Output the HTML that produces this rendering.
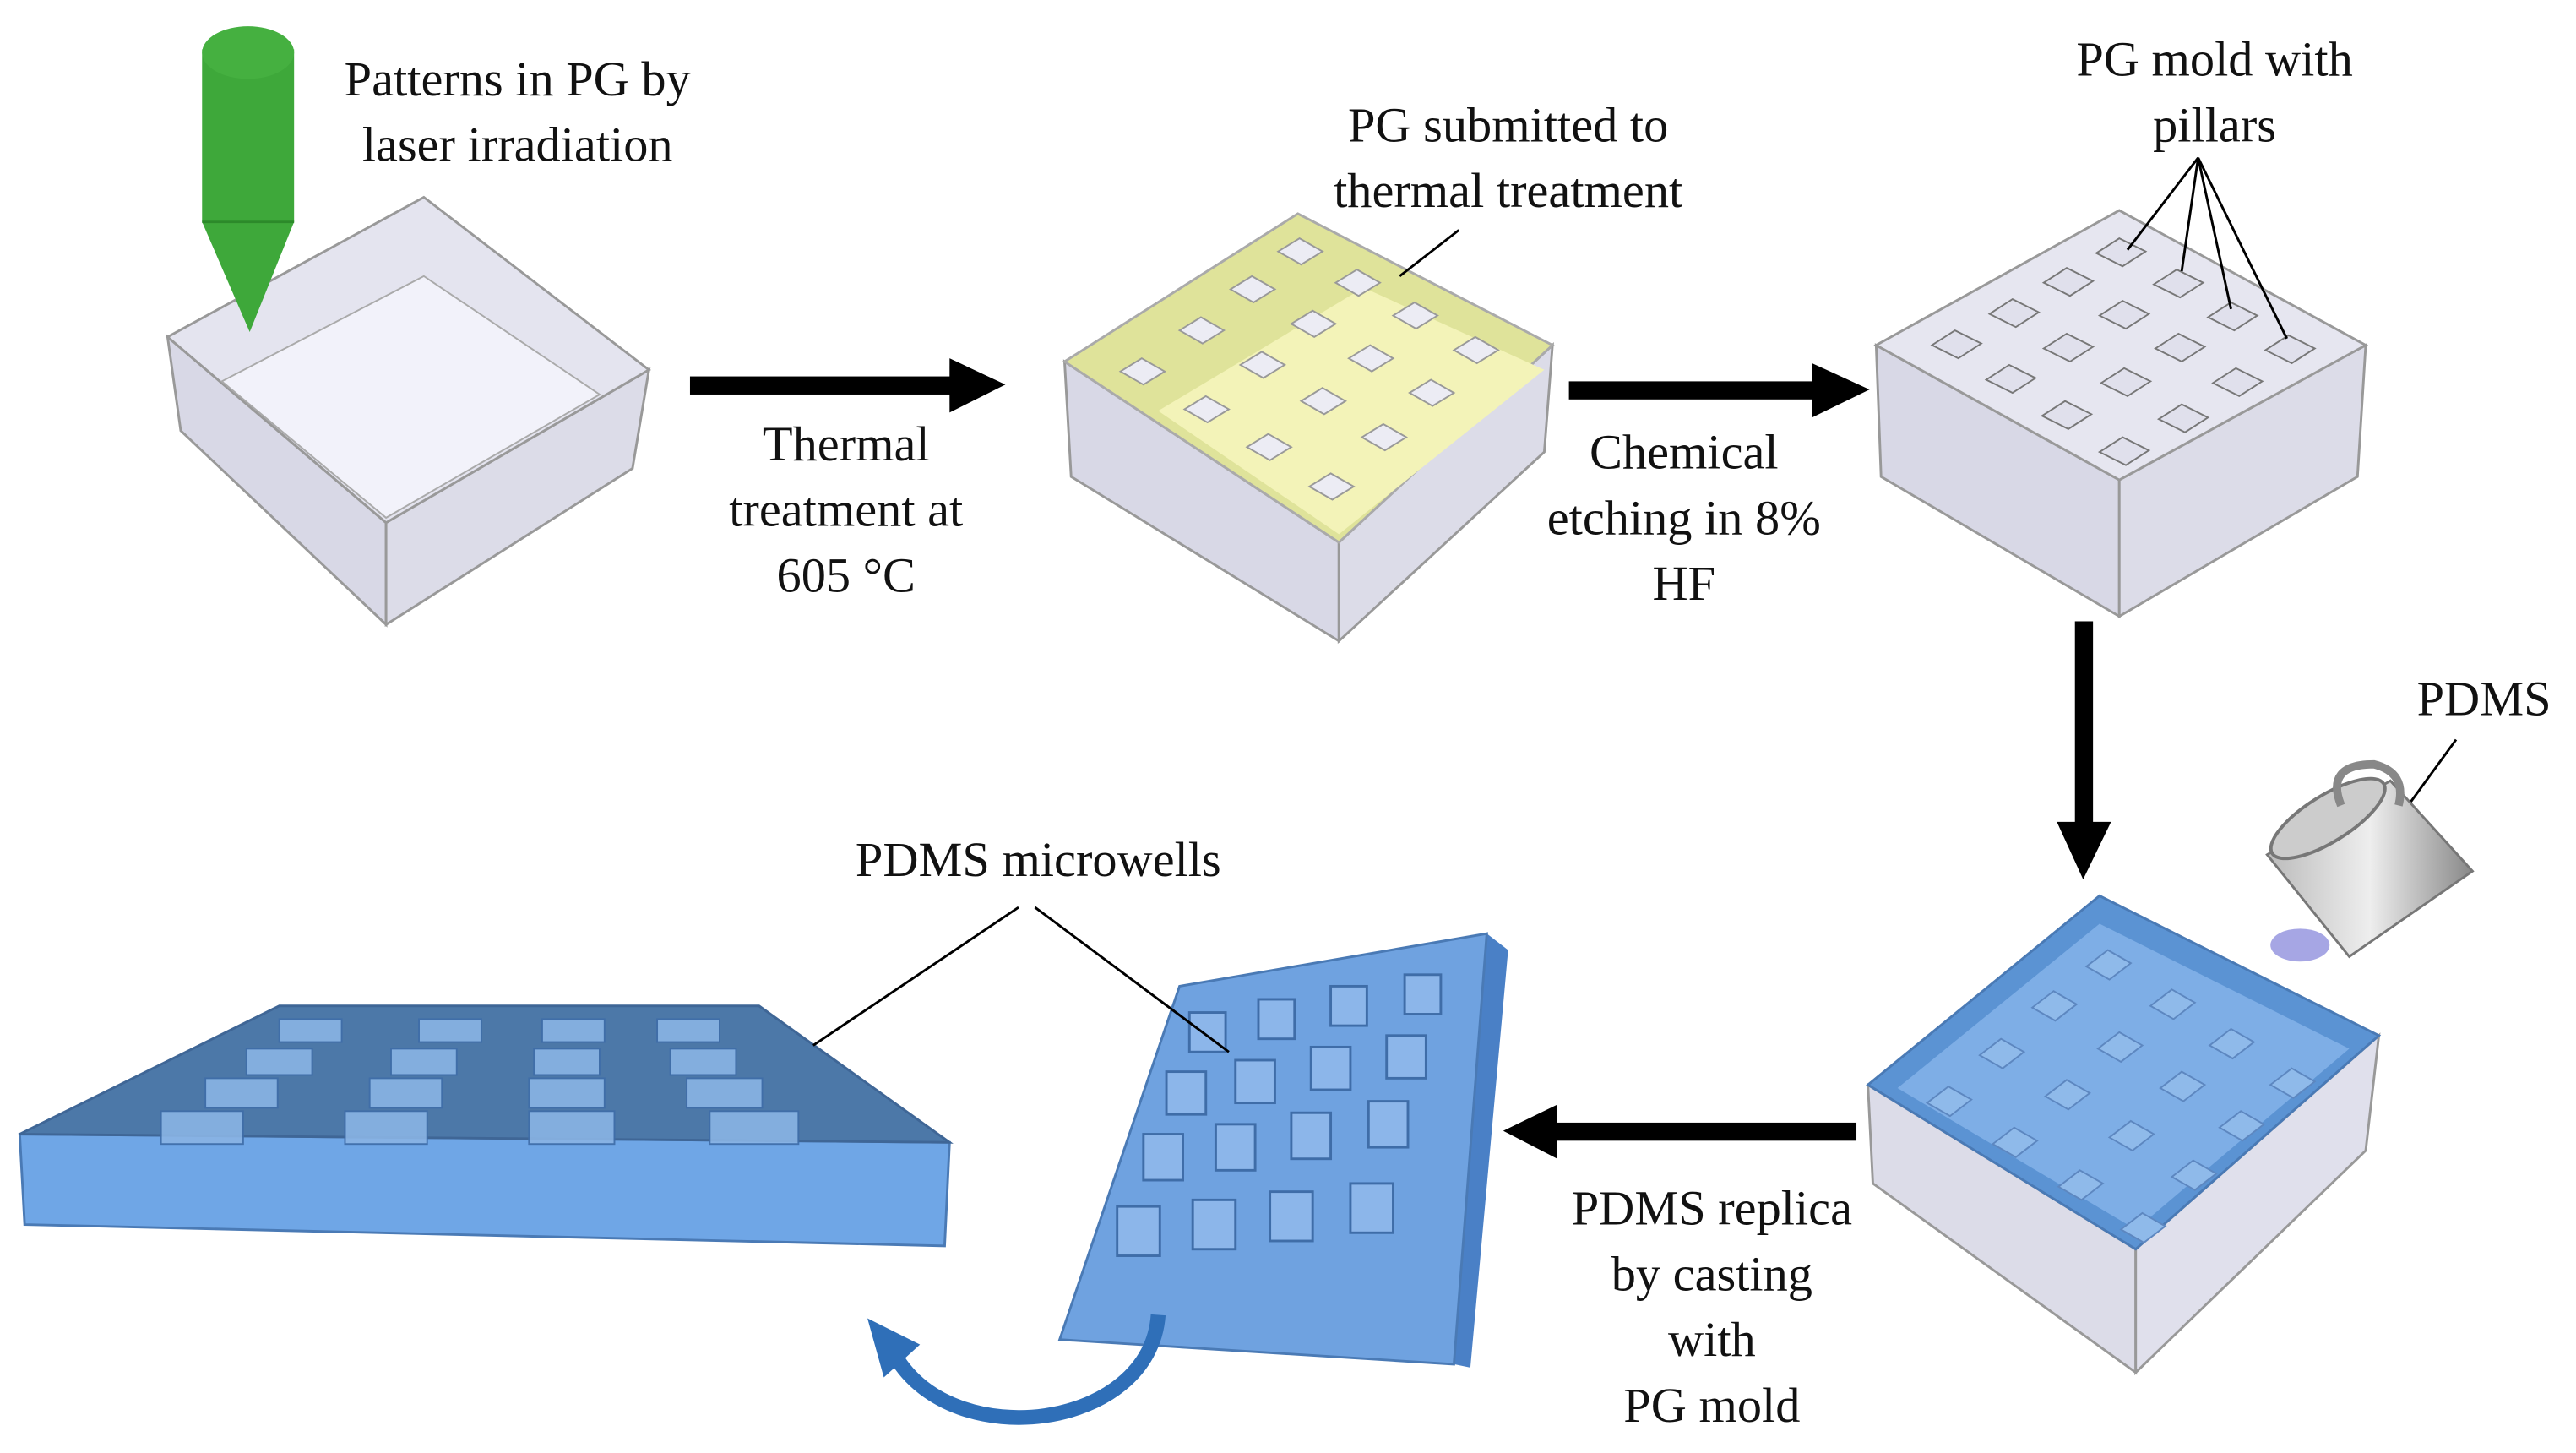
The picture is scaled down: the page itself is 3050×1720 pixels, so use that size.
<!DOCTYPE html>
<html><head><meta charset="utf-8"><style>
html,body{margin:0;padding:0;background:#fff;}
svg{display:block;}
text{font-family:"Liberation Serif",serif;font-size:30px;fill:#111;text-anchor:middle;}
</style></head><body>
<svg width="3050" height="1720" viewBox="0 0 1568 884" preserveAspectRatio="none" xmlns="http://www.w3.org/2000/svg">
<defs>
<pattern id="sq" width="1" height="1"></pattern>
<linearGradient id="cup" x1="0" y1="0" x2="1" y2="0"><stop offset="0" stop-color="#bbb"/><stop offset="0.5" stop-color="#eee"/><stop offset="1" stop-color="#888"/></linearGradient>
</defs>
<!-- Box 1 -->
<polygon points="102,205 235,318 235,380 110,262" fill="#d8d8e6" stroke="#999" stroke-width="1.5"/>
<polygon points="235,318 395,225 385,285 235,380" fill="#dcdce8" stroke="#999" stroke-width="1.5"/>
<polygon points="258,120 395,225 235,318 102,205" fill="#e4e4ef" stroke="#999" stroke-width="1.5"/>
<polygon points="258,168 365,240 235,315 135,232" fill="#f2f2fa" stroke="#aaa" stroke-width="1"/>
<!-- laser -->
<rect x="123" y="30" width="56" height="105" fill="#3ea83a"/>
<ellipse cx="151" cy="32" rx="28" ry="16" fill="#45b040"/>
<polygon points="123,135 179,135 152,202" fill="#3ea83a"/>
<line x1="123" y1="135" x2="179" y2="135" stroke="#2c8a2a" stroke-width="1.5"/>
<text x="315" y="58">Patterns in PG by</text>
<text x="315" y="98">laser irradiation</text>
<!-- arrow 1 -->
<rect x="420" y="229" width="162" height="11" fill="#000"/>
<polygon points="578,218 612,234 578,251" fill="#000"/>
<text x="515" y="280">Thermal</text>
<text x="515" y="320">treatment at</text>
<text x="515" y="360">605 °C</text>
<!-- Box 2 -->
<polygon points="648,220 815,330 815,390 652,290" fill="#d8d8e6" stroke="#999" stroke-width="1.5"/>
<polygon points="815,330 945,210 940,275 815,390" fill="#dcdce8" stroke="#999" stroke-width="1.5"/>
<polygon points="790,130 945,210 815,330 648,220" fill="#dfe39a" stroke="#aaa" stroke-width="1.5"/>
<polygon points="830,175 940,225 815,325 705,250" fill="#f3f3b8"/>
<g fill="#ececf4" stroke="#999" stroke-width="1">
<polygon points="791,145 805,153 792,161 778,153"/><polygon points="826,164 840,172 827,180 813,172"/><polygon points="861,184 875,192 862,200 848,192"/><polygon points="898,205 912,213 899,221 885,213"/>
<polygon points="762,168 776,176 763,184 749,176"/><polygon points="799,189 813,197 800,205 786,197"/><polygon points="834,210 848,218 835,226 821,218"/><polygon points="871,231 885,239 872,247 858,239"/>
<polygon points="731,193 745,201 732,209 718,201"/><polygon points="768,214 782,222 769,230 755,222"/><polygon points="805,236 819,244 806,252 792,244"/><polygon points="842,258 856,266 843,274 829,266"/>
<polygon points="695,218 709,226 696,234 682,226"/><polygon points="734,241 748,249 735,257 721,249"/><polygon points="772,264 786,272 773,280 759,272"/><polygon points="810,288 824,296 811,304 797,296"/>
</g>
<text x="918" y="86">PG submitted to</text>
<text x="918" y="126">thermal treatment</text>
<line x1="888" y1="140" x2="852" y2="168" stroke="#000" stroke-width="1.5"/>
<!-- arrow 2 -->
<rect x="955" y="232" width="150" height="11" fill="#000"/>
<polygon points="1103,221 1138,237 1103,254" fill="#000"/>
<text x="1025" y="285">Chemical</text>
<text x="1025" y="325">etching in 8%</text>
<text x="1025" y="365">HF</text>
<!-- Box 3 -->
<polygon points="1142,210 1290,292 1290,375 1145,290" fill="#d8d8e6" stroke="#999" stroke-width="1.5"/>
<polygon points="1290,292 1440,210 1435,290 1290,375" fill="#dcdce8" stroke="#999" stroke-width="1.5"/>
<polygon points="1290,128 1440,210 1290,292 1142,210" fill="#e6e6f0" stroke="#999" stroke-width="1.5"/>
<g fill="#e0e0ec" stroke="#777" stroke-width="1">
<polygon points="1290,145 1306,153 1292,162 1276,154"/><polygon points="1325,164 1341,172 1327,181 1311,173"/><polygon points="1358,184 1374,192 1360,201 1344,193"/><polygon points="1393,204 1409,212 1395,221 1379,213"/>
<polygon points="1258,163 1274,171 1260,180 1244,172"/><polygon points="1292,183 1308,191 1294,200 1278,192"/><polygon points="1326,203 1342,211 1328,220 1312,212"/><polygon points="1361,224 1377,232 1363,241 1347,233"/>
<polygon points="1225,182 1241,190 1227,199 1211,191"/><polygon points="1258,203 1274,211 1260,220 1244,212"/><polygon points="1293,224 1309,232 1295,241 1279,233"/><polygon points="1328,246 1344,254 1330,263 1314,255"/>
<polygon points="1190,201 1206,209 1192,218 1176,210"/><polygon points="1223,222 1239,230 1225,239 1209,231"/><polygon points="1257,244 1273,252 1259,261 1243,253"/><polygon points="1292,266 1308,274 1294,283 1278,275"/>
</g>
<text x="1348" y="46">PG mold with</text>
<text x="1348" y="86">pillars</text>
<g stroke="#000" stroke-width="1.5"><line x1="1338" y1="96" x2="1295" y2="152"/><line x1="1338" y1="96" x2="1328" y2="165"/><line x1="1338" y1="96" x2="1358" y2="188"/><line x1="1338" y1="96" x2="1392" y2="206"/></g>
<!-- down arrow -->
<rect x="1263" y="378" width="11" height="125" fill="#000"/>
<polygon points="1252,500 1285,500 1268,535" fill="#000"/>
<text x="1512" y="435">PDMS</text>
<line x1="1495" y1="450" x2="1460" y2="498" stroke="#000" stroke-width="1.5"/>
<!-- cup -->
<ellipse cx="1400" cy="575" rx="18" ry="10" fill="#8080d8" opacity="0.7"/>
<polygon points="1380,520 1455,475 1505,530 1430,582" fill="url(#cup)" stroke="#777" stroke-width="1.5"/>
<ellipse cx="1417" cy="498" rx="40" ry="14" transform="rotate(-32 1417 498)" fill="#ccc" stroke="#777" stroke-width="2"/>
<path d="M1425,490 q-10,-25 20,-25 q20,5 15,25" fill="none" stroke="#888" stroke-width="5"/>
<!-- Box 4 -->
<polygon points="1137,660 1300,760 1300,835 1140,720" fill="#dcdce8" stroke="#999" stroke-width="1.5"/>
<polygon points="1300,760 1448,630 1440,700 1300,835" fill="#e0e0ec" stroke="#999" stroke-width="1.5"/>
<polygon points="1278,545 1448,630 1300,760 1137,660" fill="#5b93d3" stroke="#4a7ab5" stroke-width="1.5"/>
<polygon points="1278,562 1430,638 1300,748 1155,662" fill="#7eaee6"/>
<g fill="#8fbaea" stroke="#5d87c0" stroke-width="1">
<polygon points="1283,578 1297,586 1284,596 1270,588"/><polygon points="1322,602 1336,610 1323,620 1309,612"/><polygon points="1358,626 1372,634 1359,644 1345,636"/><polygon points="1395,650 1409,658 1396,668 1382,660"/>
<polygon points="1250,603 1264,611 1251,621 1237,613"/><polygon points="1290,628 1304,636 1291,646 1277,638"/><polygon points="1328,652 1342,660 1329,670 1315,662"/><polygon points="1364,676 1378,684 1365,694 1351,686"/>
<polygon points="1218,632 1232,640 1219,650 1205,642"/><polygon points="1258,657 1272,665 1259,675 1245,667"/><polygon points="1297,682 1311,690 1298,700 1284,692"/><polygon points="1335,706 1349,714 1336,724 1322,716"/>
<polygon points="1186,661 1200,669 1187,679 1173,671"/><polygon points="1226,686 1240,694 1227,704 1213,696"/><polygon points="1266,712 1280,720 1267,730 1253,722"/><polygon points="1304,738 1318,746 1305,756 1291,748"/>
</g>
<!-- arrow 4 -->
<rect x="945" y="683" width="185" height="11" fill="#000"/>
<polygon points="948,672 915,688 948,705" fill="#000"/>
<text x="1042" y="745">PDMS replica</text>
<text x="1042" y="785">by casting</text>
<text x="1042" y="825">with</text>
<text x="1042" y="865">PG mold</text>
<!-- flipped slab -->
<polygon points="718,600 905,568 918,578 895,832 885,830" fill="#4a80c6"/>
<polygon points="718,600 905,568 885,830 645,815" fill="#6fa2e0" stroke="#4a7ab5" stroke-width="1.5"/>
<g fill="#8cb6ea" stroke="#3f6da8" stroke-width="1.5">
<rect x="724" y="616" width="22" height="24"/><rect x="766" y="608" width="22" height="24"/><rect x="810" y="600" width="22" height="24"/><rect x="855" y="593" width="22" height="24"/>
<rect x="710" y="652" width="24" height="26"/><rect x="752" y="645" width="24" height="26"/><rect x="798" y="637" width="24" height="26"/><rect x="844" y="630" width="24" height="26"/>
<rect x="696" y="690" width="24" height="28"/><rect x="740" y="684" width="24" height="28"/><rect x="786" y="677" width="24" height="28"/><rect x="833" y="670" width="24" height="28"/>
<rect x="680" y="734" width="26" height="30"/><rect x="726" y="730" width="26" height="30"/><rect x="773" y="725" width="26" height="30"/><rect x="822" y="720" width="26" height="30"/>
</g>
<!-- curved arrow -->
<path d="M705,800 C700,870 580,885 545,825" fill="none" stroke="#2f6fb8" stroke-width="9"/>
<polygon points="528,802 560,818 538,838" fill="#2f6fb8"/>
<!-- left slab -->
<polygon points="12,690 578,695 575,758 15,745" fill="#6fa6e6" stroke="#4a7ab5" stroke-width="1.5"/>
<polygon points="12,690 170,612 462,612 578,695" fill="#4c78a8" stroke="#3f6696" stroke-width="1.5"/>
<g fill="#8ab4e4" stroke="#3f6da8" stroke-width="1" opacity="0.9">
<rect x="170" y="620" width="38" height="14"/><rect x="255" y="620" width="38" height="14"/><rect x="330" y="620" width="38" height="14"/><rect x="400" y="620" width="38" height="14"/>
<rect x="150" y="638" width="40" height="16"/><rect x="238" y="638" width="40" height="16"/><rect x="325" y="638" width="40" height="16"/><rect x="408" y="638" width="40" height="16"/>
<rect x="125" y="656" width="44" height="18"/><rect x="225" y="656" width="44" height="18"/><rect x="322" y="656" width="46" height="18"/><rect x="418" y="656" width="46" height="18"/>
<rect x="98" y="676" width="50" height="20"/><rect x="210" y="676" width="50" height="20"/><rect x="322" y="676" width="52" height="20"/><rect x="432" y="676" width="54" height="20"/>
</g>
<text x="632" y="533">PDMS microwells</text>
<g stroke="#000" stroke-width="1.5"><line x1="620" y1="552" x2="495" y2="636"/><line x1="630" y1="552" x2="748" y2="640"/></g>
</svg>
</body></html>
